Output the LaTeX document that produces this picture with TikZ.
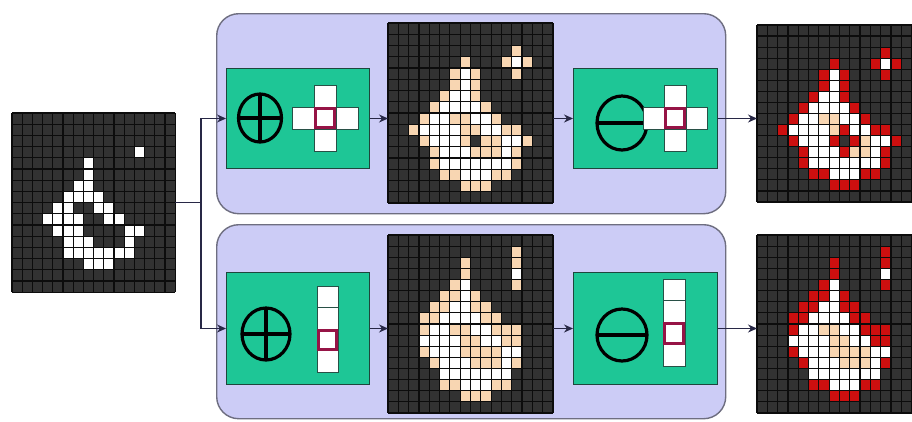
\documentclass[tikz,border=0pt]{standalone}
\usetikzlibrary{arrows.meta}
\definecolor{lav}{RGB}{204,204,246}
\definecolor{lavedge}{RGB}{110,110,128}
\definecolor{opgreen}{RGB}{30,198,150}
\definecolor{opedge}{RGB}{30,70,60}
\definecolor{connc}{RGB}{40,40,70}
\definecolor{cellbg}{RGB}{50,50,50}
\definecolor{gridc}{RGB}{12,12,12}
\definecolor{peach}{RGB}{248,214,178}
\definecolor{pixred}{RGB}{205,15,15}
\definecolor{crimson}{RGB}{150,20,70}
\definecolor{secedge}{RGB}{40,80,70}
\tikzset{
  lavbox/.style={draw=lavedge, line width=1.4, fill=lav, rounded corners=22, inner sep=0},
  opbox/.style={draw=opedge, line width=1, fill=opgreen, inner sep=0},
  gridnode/.style={inner sep=0, outer sep=0},
  conn/.style={draw=connc, line width=1.1},
  arr/.style={conn, -{Stealth[length=9pt,width=8pt]}},
  secell/.style={draw=secedge, line width=0.8, fill=white},
  seorig/.style={draw=crimson, line width=3},
  opsym/.style={draw=black, line width=3.2},
  gline/.style={draw=gridc, line width=1.2},
}
\newcommand\pixcells[2]{\edef\plist{#2}\foreach \r/\cs in \plist {\foreach \c in \cs {\fill[#1] (\c,\r) rectangle ++(1,1);}}}
\newcommand\pixbg{\fill[cellbg] (0,0) rectangle (16,16);}
\newcommand\pixlines{\foreach \k in {0,...,16}{\draw[gline] (\k,0) -- (\k,16); \draw[gline] (0,\k) -- (16,\k);}}
\newcommand\inputset{3/{12},4/{7},5/{7},6/{6,7},7/{5,6,7,8},8/{4,5,8,9},9/{3,4,5,6,9,10},10/{4,5,6,11,12},11/{5,6,7,11},12/{5,6,7,8,9,10,11},13/{7,8,9}}
\begin{document}
\begin{tikzpicture}[x=1pt,y=-1pt]
\useasboundingbox (0,0) rectangle (912,421);
\clip (0,0) rectangle (912,421);
\fill[white] (0,0) rectangle (912,421);

% lavender panels
\node[lavbox, minimum width=509, minimum height=200, anchor=north west] (lavA) at (216,13) {};
\node[lavbox, minimum width=509, minimum height=194, anchor=north west] (lavB) at (216,224) {};

% operator boxes
\node[opbox, minimum width=143, minimum height=100, anchor=north west] (dA) at (226,68) {};
\node[opbox, minimum width=144, minimum height=100, anchor=north west] (eA) at (573,68) {};
\node[opbox, minimum width=143, minimum height=112, anchor=north west] (dB) at (226,272) {};
\node[opbox, minimum width=144, minimum height=112, anchor=north west] (eB) at (573,272) {};

% grid nodes
\node[gridnode, minimum width=163, minimum height=179, anchor=north west] (in) at (12,113) {};
\node[gridnode, minimum width=165, minimum height=180, anchor=north west] (gA) at (388,23) {};
\node[gridnode, minimum width=165, minimum height=178, anchor=north west] (gB) at (388,235) {};
\node[gridnode, minimum width=165, minimum height=177, anchor=north west] (oA) at (757,25) {};
\node[gridnode, minimum width=165, minimum height=178, anchor=north west] (oB) at (757,235) {};

% top dilation symbol and structuring element
\draw[opsym] (260,118) ellipse [x radius=21.5pt, y radius=24pt];
\draw[opsym] (260,94) -- (260,142);
\draw[opsym] (238.5,118) -- (281.5,118);
\draw[secell] (292,107) rectangle (314,129);
\draw[secell] (336,107) rectangle (358,129);
\draw[secell] (314,85) rectangle (336,107);
\draw[secell] (314,129) rectangle (336,151);
\draw[secell] (314,107) rectangle (336,129);
\draw[seorig] (315.5,108.5) rectangle (334.5,127.5);

% top erosion symbol and structuring element
\draw[opsym] (622,123) ellipse [x radius=25pt, y radius=27pt];
\draw[opsym] (597,123) -- (647,123);
\draw[secell] (643,107) rectangle (664,129);
\draw[secell] (686,107) rectangle (707,129);
\draw[secell] (664,85) rectangle (686,107);
\draw[secell] (664,129) rectangle (686,151);
\draw[secell] (664,107) rectangle (686,129);
\draw[seorig] (665.5,108.5) rectangle (684.5,127.5);

% bottom dilation symbol and structuring element
\draw[opsym] (266,334) ellipse [x radius=24pt, y radius=26pt];
\draw[opsym] (266,308) -- (266,360);
\draw[opsym] (242,334) -- (290,334);
\draw[secell] (317,286) rectangle (338,307.5);
\draw[secell] (317,307.5) rectangle (338,329);
\draw[secell] (317,350.5) rectangle (338,372);
\draw[secell] (317,329) rectangle (338,350.5);
\draw[seorig] (318.5,330.5) rectangle (336.5,349);

% bottom erosion symbol and structuring element
\draw[opsym] (622,335) ellipse [x radius=25pt, y radius=26pt];
\draw[opsym] (597,335) -- (647,335);
\draw[secell] (663,279) rectangle (685,300.5);
\draw[secell] (663,300.5) rectangle (685,322);
\draw[secell] (663,344.5) rectangle (685,366);
\draw[secell] (663,322) rectangle (685,344.5);
\draw[seorig] (664.5,323.5) rectangle (683.5,343);

% input image
\begin{scope}[shift={(12,113)},xscale=10.2,yscale=11.2]
\pixbg
\pixcells{white}{\inputset}
\pixlines
\end{scope}

% top dilation result
\begin{scope}[shift={(388,23)},xscale=10.31,yscale=11.25]
\pixbg
\pixcells{white}{\inputset}
\pixcells{peach}{2/{12},3/{7,11,13},4/{6,8,12},5/{6,8},6/{5,8},7/{4,9},8/{3,6,7,10},9/{2,7,8,11,12},10/{3,7,9,10,13},11/{4,8,9,10,12},12/{4,12},13/{5,6,10,11},14/{7,8,9}}
\pixlines
\end{scope}

% top closing result
\begin{scope}[shift={(757,25)},xscale=10.3,yscale=11.06]
\pixbg
\pixcells{white}{\inputset}
\pixcells{peach}{8/{6,7},9/{7},10/{10},11/{9,10}}
\pixcells{pixred}{2/{12},3/{7,11,13},4/{6,8,12},5/{6,8},6/{5,8},7/{4,9},8/{3,10},9/{2,8,11,12},10/{3,7,9,13},11/{4,8,12},12/{4,12},13/{5,6,10,11},14/{7,8,9}}
\pixlines
\end{scope}

% bottom dilation result
\begin{scope}[shift={(388,235)},xscale=10.31,yscale=11.125]
\pixbg
\pixcells{white}{\inputset}
\pixcells{peach}{1/{12},2/{7,12},3/{7},4/{6,12},5/{5,6,8},6/{4,5,8,9},7/{3,4,9,10},8/{3,6,7,10,11,12},9/{7,8,11,12},10/{3,7,8,9,10},11/{4,8,9,10,12},13/{5,6,10,11},14/{7,8,9}}
\pixlines
\end{scope}

% bottom closing result
\begin{scope}[shift={(757,235)},xscale=10.3,yscale=11.125]
\pixbg
\pixcells{white}{\inputset}
\pixcells{peach}{8/{6,7},9/{7,8},10/{7,8,9,10},11/{8,9,10}}
\pixcells{pixred}{1/{12},2/{7,12},3/{7},4/{6,12},5/{5,6,8},6/{4,5,8,9},7/{3,4,9,10},8/{3,10,11,12},9/{11,12},10/{3},11/{4,12},13/{5,6,10,11},14/{7,8,9}}
\pixlines
\end{scope}

% connectors
\coordinate (sp) at (201,205);
\draw[conn] (in.east) -- (in.east -| sp);
\draw[arr] (in.east -| sp) |- (dA.west);
\draw[arr] (in.east -| sp) |- (dB.west);
\draw[arr] (dA.east) -- (dA.east -| gA.west);
\draw[arr] (dA.east -| gA.east) -- (eA.west);
\draw[arr] (eA.east) -- (eA.east -| oA.west);
\draw[arr] (dB.east) -- (dB.east -| gB.west);
\draw[arr] (dB.east -| gB.east) -- (eB.west);
\draw[arr] (eB.east) -- (eB.east -| oB.west);
\end{tikzpicture}
\end{document}
